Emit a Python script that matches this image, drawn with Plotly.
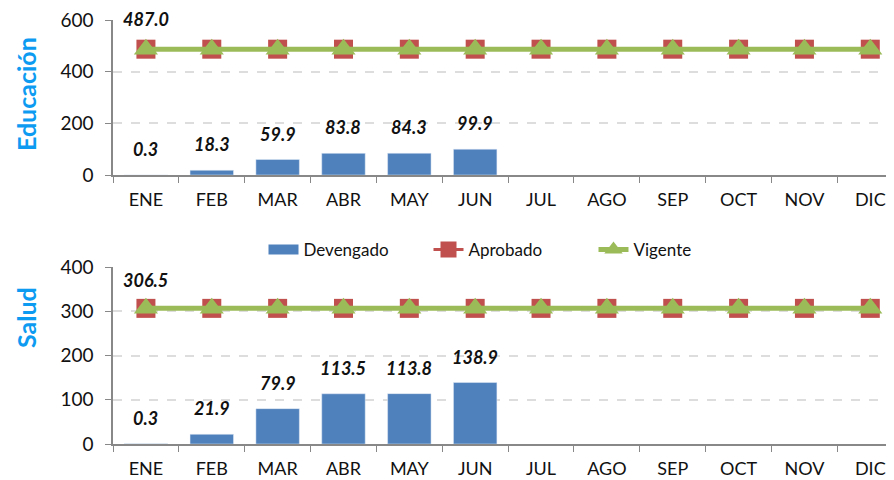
import plotly.graph_objects as go

months = ["ENE", "FEB", "MAR", "ABR", "MAY", "JUN", "JUL", "AGO", "SEP", "OCT", "NOV", "DIC"]
edu_devengado = [0.3, 18.3, 59.9, 83.8, 84.3, 99.9]
edu_aprobado = [487.0] * 12
edu_vigente = [487.0] * 12
sal_devengado = [0.3, 21.9, 79.9, 113.5, 113.8, 138.9]
sal_aprobado = [306.5] * 12
sal_vigente = [306.5] * 12

BLUE = "#4F81BD"
RED = "#C0504D"
GREEN = "#9BBB59"
TITLE_BLUE = "#0D9BF2"
FONT = "Lato, 'Open Sans', sans-serif"

W, H, OFF = 886, 472, 8  # page body margin offset


def px(x):
    return (x - OFF) / W


def py(y):
    return 1 - (y - OFF) / H


fig = go.Figure()

# legend-only entry for the bars (wide blue swatch)
fig.add_trace(go.Scatter(x=[None], y=[None], name="Devengado", mode="lines",
                         line=dict(color=BLUE, width=10), legendrank=1))


def add_panel(dev, apr, vig, xa, ya, show):
    fig.add_trace(go.Bar(x=months[:len(dev)], y=dev, name="Devengado", marker_color=BLUE,
                         width=0.66, xaxis=xa, yaxis=ya, showlegend=False))
    fig.add_trace(go.Scatter(x=months, y=apr, name="Aprobado", mode="lines+markers",
                             line=dict(color=RED, width=3),
                             marker=dict(symbol="square", size=19, color=RED),
                             xaxis=xa, yaxis=ya, showlegend=show, legendrank=2))
    fig.add_trace(go.Scatter(x=months, y=vig, name="Vigente", mode="lines+markers",
                             line=dict(color=GREEN, width=5),
                             marker=dict(symbol="triangle-up", size=21, color=GREEN),
                             xaxis=xa, yaxis=ya, showlegend=show, legendrank=3))


add_panel(edu_devengado, edu_aprobado, edu_vigente, "x", "y", True)
add_panel(sal_devengado, sal_aprobado, sal_vigente, "x2", "y2", False)

annotations = []
lab_font = dict(family=FONT, size=18, color="#111111")
for m, v in zip(months, edu_devengado):
    annotations.append(dict(x=m, y=v, xref="x", yref="y", text=f"<b><i>{v:.1f}</i></b>",
                            showarrow=False, yshift=26, font=lab_font))
for m, v in zip(months, sal_devengado):
    annotations.append(dict(x=m, y=v, xref="x2", yref="y2", text=f"<b><i>{v:.1f}</i></b>",
                            showarrow=False, yshift=26, font=lab_font))
annotations.append(dict(x=months[0], y=edu_aprobado[0], xref="x", yref="y",
                        text=f"<b><i>{edu_aprobado[0]:.1f}</i></b>", showarrow=False,
                        yshift=30, font=lab_font))
annotations.append(dict(x=months[0], y=sal_aprobado[0], xref="x2", yref="y2",
                        text=f"<b><i>{sal_aprobado[0]:.1f}</i></b>", showarrow=False,
                        yshift=28, font=lab_font))
annotations.append(dict(x=px(26), y=py(94), xref="paper", yref="paper", text="<b>Educación</b>",
                        textangle=-90, showarrow=False, xanchor="center", yanchor="middle",
                        font=dict(family=FONT, size=25, color=TITLE_BLUE)))
annotations.append(dict(x=px(26), y=py(318), xref="paper", yref="paper", text="<b>Salud</b>",
                        textangle=-90, showarrow=False, xanchor="center", yanchor="middle",
                        font=dict(family=FONT, size=25, color=TITLE_BLUE)))

xcommon = dict(type="category", categoryorder="array", categoryarray=months,
               range=[-0.5, 11.36], showline=True, linecolor="#888888", linewidth=1.5,
               ticks="outside", tickson="boundaries", ticklen=6, tickcolor="#888888",
               showgrid=False, automargin=False, ticklabelstandoff=8,
               tickfont=dict(family=FONT, size=18, color="#111111"),
               domain=[px(113), 1])
ycommon = dict(showline=True, linecolor="#888888", linewidth=1.5, ticks="outside", ticklen=6,
               tickcolor="#888888", showgrid=True, gridcolor="#DDDDDD", griddash="dash",
               gridwidth=1.5, zeroline=False, automargin=False, ticklabeloverflow="allow",
               ticklabelstandoff=8,
               tickfont=dict(family=FONT, size=19, color="#111111"))

fig.update_layout(
    width=W, height=H,
    margin=dict(l=0, r=0, t=0, b=0),
    plot_bgcolor="white", paper_bgcolor="white",
    font=dict(family=FONT),
    barmode="overlay",
    xaxis=dict(**xcommon, anchor="y"),
    xaxis2=dict(**xcommon, anchor="y2"),
    yaxis=dict(**ycommon, range=[0, 600], dtick=200, domain=[py(175), py(20)], anchor="x"),
    yaxis2=dict(**ycommon, range=[0, 400], dtick=100, domain=[py(444), py(267)], anchor="x2"),
    legend=dict(orientation="h", x=px(511), y=py(250), xanchor="center", yanchor="middle",
                font=dict(family=FONT, size=17, color="#111111"), bgcolor="rgba(0,0,0,0)",
                traceorder="normal", entrywidth=120),
    annotations=annotations,
)

fig.write_html("out.html")
